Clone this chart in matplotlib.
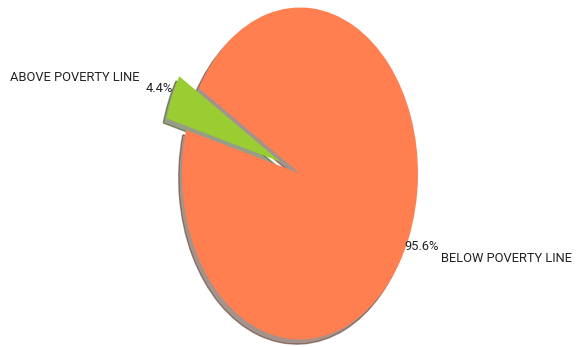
import matplotlib
matplotlib.use("Agg")
import matplotlib.pyplot as plt

labels = ["ABOVE POVERTY LINE", "BELOW POVERTY LINE"]
shares = [4.4, 95.6]
colors = ["yellowgreen", "coral"]
explode = [0.18, 0.0]

plt.rcParams["font.family"] = ["Roboto", "DejaVu Sans"]

fig = plt.figure(figsize=(5.78, 3.47), dpi=100)
ax = fig.add_axes([0, 0, 1, 1])
ax.pie(shares, labels=labels, colors=colors, explode=explode,
       autopct="%1.1f%%", startangle=149, shadow=True,
       pctdistance=1.12, labeldistance=1.3,
       textprops={"fontsize": 9.3, "color": "#222222"})
# stretch the pie vertically into an ellipse
ax.set_aspect("auto")
ax.set_xlim(-300 / 118, (578 - 300) / 118)
ax.set_ylim(-173.5 / 166, 173.5 / 166)
ax.axis("off")
fig.savefig("out.png", dpi=100)
